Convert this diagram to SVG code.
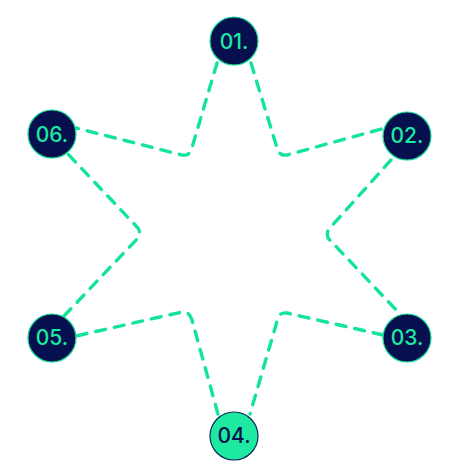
<svg xmlns="http://www.w3.org/2000/svg" width="468" height="469" viewBox="0 0 468 469">
<style>
.edge{fill:none;stroke:#14e39a;stroke-width:3.4;stroke-dasharray:10 9;stroke-linecap:round;stroke-linejoin:round}
.n circle{fill:#06104f;stroke:#14d99a;stroke-width:1.2}
.n text{fill:#1de9a0;font-family:Inter,"Liberation Sans",sans-serif;font-size:21px;font-weight:500;text-anchor:middle;dominant-baseline:central}
.hl circle{fill:#1de9a0;stroke:#0a2a5a;stroke-width:1.2}
.hl text{fill:#06104f}
</style>
<rect width="468" height="469" fill="#ffffff"/>
<g id="connectors">
<path class="edge" d="M217,63 L191,151 Q188,156 182,155 L76,128"/>
<path class="edge" d="M251,63 L278,151 Q281,156 287,155 L385,128"/>
<path class="edge" d="M391,160 L329,229 Q326,233 328,238 L400,314"/>
<path class="edge" d="M383,335 L287,313 Q280,312 278,318 L250,414"/>
<path class="edge" d="M218,414 L192,320 Q189,311 182,312 L76,336"/>
<path class="edge" d="M64,316 L138,238 Q141,233 138,228 L66,152"/>
</g>
<g id="n1" class="n"><circle cx="234" cy="41" r="24"/><text x="234" y="41">01.</text></g>
<g id="n2" class="n"><circle cx="407" cy="136" r="24"/><text x="407" y="135">02.</text></g>
<g id="n3" class="n"><circle cx="407" cy="338" r="24"/><text x="407" y="337">03.</text></g>
<g id="n4" class="n hl"><circle cx="234" cy="436" r="24"/><text x="234" y="435">04.</text></g>
<g id="n5" class="n"><circle cx="52" cy="338" r="24"/><text x="52" y="337">05.</text></g>
<g id="n6" class="n"><circle cx="52" cy="134" r="24"/><text x="52" y="134">06.</text></g>
</svg>
